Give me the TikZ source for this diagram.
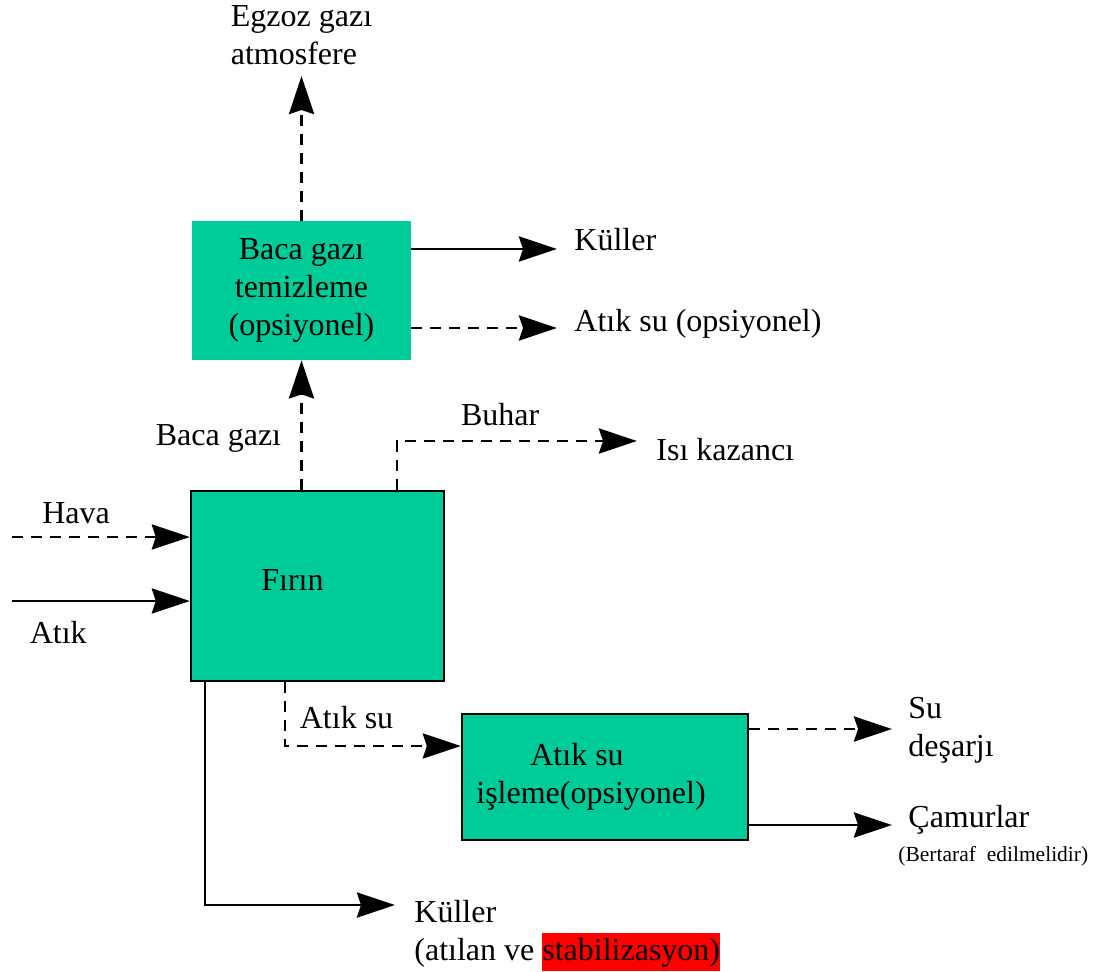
\documentclass[tikz,border=0pt]{standalone}
\usepackage{fontspec}
\setmainfont{Liberation Serif}
\usetikzlibrary{positioning, arrows.meta}
\definecolor{boxgreen}{RGB}{0,204,153}
\definecolor{markred}{RGB}{255,0,0}
\newcommand{\hlred}[1]{{\setlength{\fboxsep}{0pt}\colorbox{markred}{\strut #1}}}

\begin{document}
\begin{tikzpicture}[x=0.5pt, y=-0.5pt,
        font=\fontsize{16}{19}\selectfont,
        unit/.style={fill=boxgreen, inner sep=0pt, align=center},
        flow/.style={line width=1.4pt, -{Stealth[length=19pt, width=12.5pt, inset=2pt]}},
        dflow/.style={flow, dash pattern=on 5.5pt off 4pt},
        txt/.style={inner sep=0pt, align=left}]
        \useasboundingbox (0,0) rectangle (1095,972);

        \node[unit, minimum width=109.5pt, minimum height=69.5pt]               (clean)   at (301.5,290.5) {Baca gazı\\temizleme\\(opsiyonel)};
        \node[unit, draw, line width=1.2pt, minimum width=126.5pt, minimum height=95pt,
              label={[xshift=-12.5pt, yshift=3pt]center:Fırın}]                 (furnace) at (317.5,586) {};
        \node[unit, draw, line width=1.2pt, minimum width=143pt, minimum height=63pt,
              label={[xshift=-7pt, align=left]center:\hspace*{27pt}Atık su\\işleme(opsiyonel)}] (water) at (605,777) {};

        \coordinate (exhaust) at (301.5,76);
        \coordinate (ash1)    at (557,249);
        \coordinate (ww1)     at (557,328);
        \coordinate (steamup) at (397,441);
        \coordinate (steam)   at (637,441);
        \coordinate (air)     at (12,537);
        \coordinate (waste)   at (12,601);
        \coordinate (ww2)     at (285,746);
        \coordinate (ash2)    at (205,905);
        \coordinate (ash2end) at (395,905);
        \coordinate (out1)    at (892,729);
        \coordinate (out2)    at (892,825);

        \draw[dflow] (clean) -- (exhaust) node[txt, above=5pt] (exhaustlbl) {Egzoz gazı\\atmosfere};
        \draw[flow]  (clean.east |- ash1) -- (ash1) node[txt, anchor=base west, xshift=8pt, yshift=-1pt] (ash1lbl) {Küller};
        \draw[dflow] (clean.east |- ww1) -- (ww1) node[txt, anchor=base west, xshift=8pt, yshift=-2pt] (ww1lbl) {Atık su (opsiyonel)};
        \draw[dflow] (furnace.north -| clean) -- node[txt, pos=.40, left=9.5pt] (fluelbl) {Baca gazı} (clean);
        \draw[dflow] (furnace.north -| steamup) -- (steamup) -- node[txt, pos=.43, above=7pt] (steamlbl) {Buhar} (steam)
              node[txt, anchor=base west, xshift=9pt, yshift=-9.5pt] (heatlbl) {Isı kazancı};
        \draw[dflow] (air) -- node[txt, pos=.36, above=6pt] (airlbl) {Hava} (furnace.west |- air);
        \draw[flow]  (waste) -- node[txt, pos=.26, below=9.5pt] (wastelbl) {Atık} (furnace.west |- waste);
        \draw[dflow] (furnace.south -| ww2) -- (ww2) -- node[txt, pos=.35, above=8pt] (ww2lbl) {Atık su} (water.west |- ww2);
        \draw[flow]  (furnace.south -| ash2) -- (ash2) -- (ash2end)
              node[txt, anchor=base west, xshift=9pt, yshift=-27.5pt] (ash2lbl) {Küller\\(atılan ve \hlred{stabilizasyon)}};
        \draw[dflow] (water.east |- out1) -- (out1) node[txt, anchor=base west, xshift=7.5pt, yshift=-13.5pt] (out1lbl) {Su\\deşarjı};
        \draw[flow]  (water.east |- out2) -- (out2) node[txt, anchor=base west, xshift=7.5pt, yshift=-1pt] (sludgelbl) {Çamurlar};
        \node[txt, font=\fontsize{10.75}{13}\selectfont, anchor=base west, xshift=-4.5pt, yshift=-17pt]
              (disposelbl) at (sludgelbl.base west) {(Bertaraf~ edilmelidir)};
    \end{tikzpicture}
\end{document}
